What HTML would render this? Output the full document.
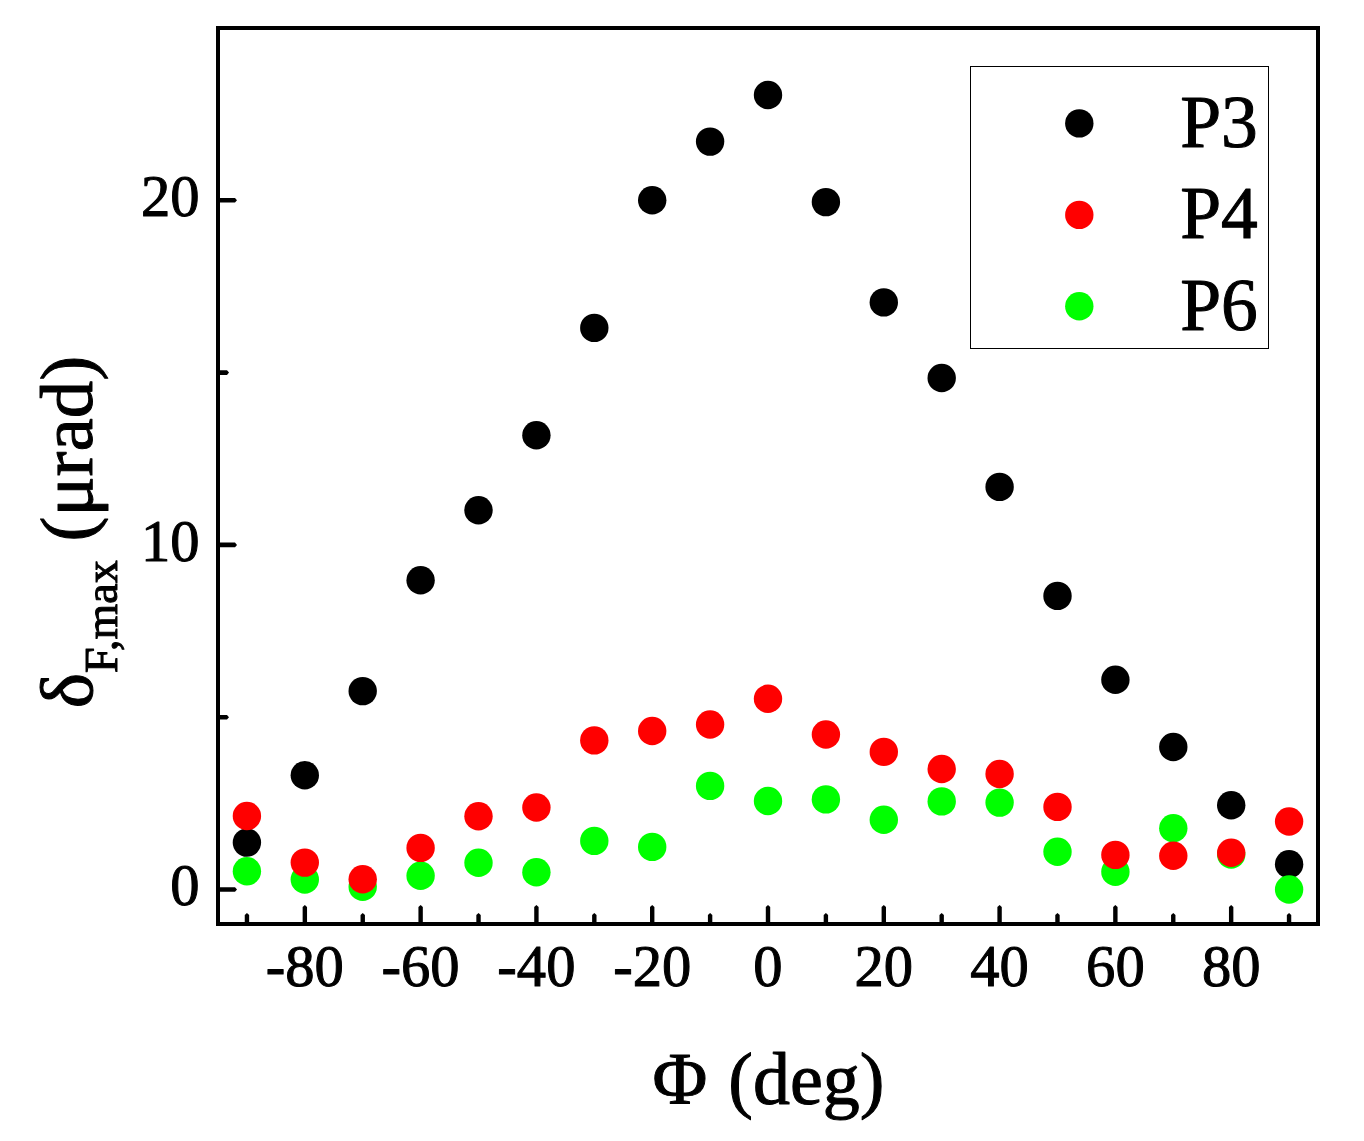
<!DOCTYPE html>
<html lang="en"><head><meta charset="utf-8"><title>Faraday rotation plot</title>
<style>
html,body{margin:0;padding:0;background:#fff;}
body{width:1364px;height:1141px;overflow:hidden;}
svg{display:block;}
text{font-family:"Liberation Serif","DejaVu Serif",serif;fill:#000;stroke:#000;stroke-width:1.00px;stroke-linejoin:round;}
.tick{font-size:58.6px;}
.title{font-size:75.0px;}
.leg{font-size:73.5px;}
.sub{font-size:46.0px;}
</style></head><body>
<svg width="1364" height="1141" viewBox="0 0 1364 1141">
<rect x="0" y="0" width="1364" height="1141" fill="#fff"/>
<g fill="#000000">
<circle cx="246.9" cy="842.6" r="14.2"/>
<circle cx="304.8" cy="775.2" r="14.2"/>
<circle cx="362.7" cy="691.1" r="14.2"/>
<circle cx="420.6" cy="580.3" r="14.2"/>
<circle cx="478.5" cy="510.3" r="14.2"/>
<circle cx="536.4" cy="435.3" r="14.2"/>
<circle cx="594.3" cy="327.9" r="14.2"/>
<circle cx="652.2" cy="200.2" r="14.2"/>
<circle cx="710.1" cy="141.6" r="14.2"/>
<circle cx="768.0" cy="95.0" r="14.2"/>
<circle cx="825.9" cy="202.1" r="14.2"/>
<circle cx="883.8" cy="302.4" r="14.2"/>
<circle cx="941.7" cy="378.0" r="14.2"/>
<circle cx="999.6" cy="486.9" r="14.2"/>
<circle cx="1057.5" cy="595.9" r="14.2"/>
<circle cx="1115.4" cy="679.8" r="14.2"/>
<circle cx="1173.3" cy="747.0" r="14.2"/>
<circle cx="1231.2" cy="805.3" r="14.2"/>
<circle cx="1289.1" cy="864.2" r="14.2"/>
</g>
<g fill="#00ff00">
<circle cx="246.9" cy="871.3" r="14.2"/>
<circle cx="304.8" cy="879.5" r="14.2"/>
<circle cx="362.7" cy="886.8" r="14.2"/>
<circle cx="420.6" cy="875.8" r="14.2"/>
<circle cx="478.5" cy="862.8" r="14.2"/>
<circle cx="536.4" cy="872.3" r="14.2"/>
<circle cx="594.3" cy="840.9" r="14.2"/>
<circle cx="652.2" cy="846.9" r="14.2"/>
<circle cx="710.1" cy="785.9" r="14.2"/>
<circle cx="768.0" cy="801.0" r="14.2"/>
<circle cx="825.9" cy="799.4" r="14.2"/>
<circle cx="883.8" cy="819.7" r="14.2"/>
<circle cx="941.7" cy="801.4" r="14.2"/>
<circle cx="999.6" cy="802.6" r="14.2"/>
<circle cx="1057.5" cy="851.7" r="14.2"/>
<circle cx="1115.4" cy="871.8" r="14.2"/>
<circle cx="1173.3" cy="828.2" r="14.2"/>
<circle cx="1231.2" cy="854.5" r="14.2"/>
<circle cx="1289.1" cy="889.5" r="14.2"/>
</g>
<g fill="#ff0000">
<circle cx="246.9" cy="816.0" r="14.2"/>
<circle cx="304.8" cy="862.6" r="14.2"/>
<circle cx="362.7" cy="879.3" r="14.2"/>
<circle cx="420.6" cy="847.9" r="14.2"/>
<circle cx="478.5" cy="816.3" r="14.2"/>
<circle cx="536.4" cy="807.5" r="14.2"/>
<circle cx="594.3" cy="740.4" r="14.2"/>
<circle cx="652.2" cy="731.0" r="14.2"/>
<circle cx="710.1" cy="724.5" r="14.2"/>
<circle cx="768.0" cy="698.8" r="14.2"/>
<circle cx="825.9" cy="734.5" r="14.2"/>
<circle cx="883.8" cy="751.9" r="14.2"/>
<circle cx="941.7" cy="769.0" r="14.2"/>
<circle cx="999.6" cy="774.0" r="14.2"/>
<circle cx="1057.5" cy="806.9" r="14.2"/>
<circle cx="1115.4" cy="854.9" r="14.2"/>
<circle cx="1173.3" cy="855.8" r="14.2"/>
<circle cx="1231.2" cy="852.7" r="14.2"/>
<circle cx="1289.1" cy="821.5" r="14.2"/>
</g>
<g shape-rendering="crispEdges">
<rect x="216" y="26" width="1104" height="4" fill="#000"/>
<rect x="216" y="922" width="1104" height="4" fill="#000"/>
<rect x="216" y="26" width="4" height="900" fill="#000"/>
<rect x="1316" y="26" width="4" height="900" fill="#000"/>
</g>
<g fill="#000">
<polygon points="244.75,923 244.75,915 246.95,913 249.15,915 249.15,923"/>
<polygon points="302.64,923 302.64,907 304.84,905 307.04,907 307.04,923"/>
<polygon points="360.54,923 360.54,915 362.74,913 364.94,915 364.94,923"/>
<polygon points="418.43,923 418.43,907 420.63,905 422.83,907 422.83,923"/>
<polygon points="476.33,923 476.33,915 478.53,913 480.73,915 480.73,923"/>
<polygon points="534.22,923 534.22,907 536.42,905 538.62,907 538.62,923"/>
<polygon points="592.12,923 592.12,915 594.32,913 596.52,915 596.52,923"/>
<polygon points="650.01,923 650.01,907 652.21,905 654.41,907 654.41,923"/>
<polygon points="707.91,923 707.91,915 710.11,913 712.31,915 712.31,923"/>
<polygon points="765.80,923 765.80,907 768.00,905 770.20,907 770.20,923"/>
<polygon points="823.69,923 823.69,915 825.89,913 828.09,915 828.09,923"/>
<polygon points="881.59,923 881.59,907 883.79,905 885.99,907 885.99,923"/>
<polygon points="939.48,923 939.48,915 941.68,913 943.88,915 943.88,923"/>
<polygon points="997.38,923 997.38,907 999.58,905 1001.78,907 1001.78,923"/>
<polygon points="1055.27,923 1055.27,915 1057.47,913 1059.67,915 1059.67,923"/>
<polygon points="1113.17,923 1113.17,907 1115.37,905 1117.57,907 1117.57,923"/>
<polygon points="1171.06,923 1171.06,915 1173.26,913 1175.46,915 1175.46,923"/>
<polygon points="1228.96,923 1228.96,907 1231.16,905 1233.36,907 1233.36,923"/>
<polygon points="1286.85,923 1286.85,915 1289.05,913 1291.25,915 1291.25,923"/>
<polygon points="219,887.24 235,887.24 237,889.54 235,891.84 219,891.84"/>
<polygon points="219,714.93 227,714.93 229,717.23 227,719.53 219,719.53"/>
<polygon points="219,542.62 235,542.62 237,544.92 235,547.22 219,547.22"/>
<polygon points="219,370.32 227,370.32 229,372.62 227,374.92 219,374.92"/>
<polygon points="219,198.01 235,198.01 237,200.31 235,202.61 219,202.61"/>
</g>
<g class="tick" text-anchor="middle">
<text x="304.8" y="986.0">-80</text>
<text x="420.6" y="986.0">-60</text>
<text x="536.4" y="986.0">-40</text>
<text x="652.2" y="986.0">-20</text>
<text x="768.0" y="986.0">0</text>
<text x="883.8" y="986.0">20</text>
<text x="999.6" y="986.0">40</text>
<text x="1115.4" y="986.0">60</text>
<text x="1231.2" y="986.0">80</text>
</g>
<g class="tick" text-anchor="end">
<text x="199.5" y="905.1">0</text>
<text x="199.5" y="560.5">10</text>
<text x="199.5" y="215.9">20</text>
</g>
<text class="title" x="652.5" y="1103.8">&#934;</text>
<text text-anchor="end" style="font-size:74.0px" x="884.5" y="1103.8">(deg)</text>
<g style="filter:grayscale(1)"><text class="title" transform="translate(91.5,708.3) rotate(-90)" x="0" y="0">&#948;<tspan class="sub" dy="25">F,max</tspan><tspan dy="-25"> (&#956;rad)</tspan></text></g>
<rect x="970.5" y="66.5" width="298" height="281.5" fill="#fff" stroke="#000" stroke-width="1" shape-rendering="crispEdges"/>
<circle cx="1079.3" cy="123.4" r="14.2" fill="#000000"/>
<circle cx="1079.3" cy="214.9" r="14.2" fill="#ff0000"/>
<circle cx="1079.3" cy="306.3" r="14.2" fill="#00ff00"/>
<text class="leg" x="1180.2" y="147.0">P3</text>
<text class="leg" x="1180.2" y="238.3">P4</text>
<text class="leg" x="1180.2" y="329.5">P6</text>
</svg>
</body></html>
